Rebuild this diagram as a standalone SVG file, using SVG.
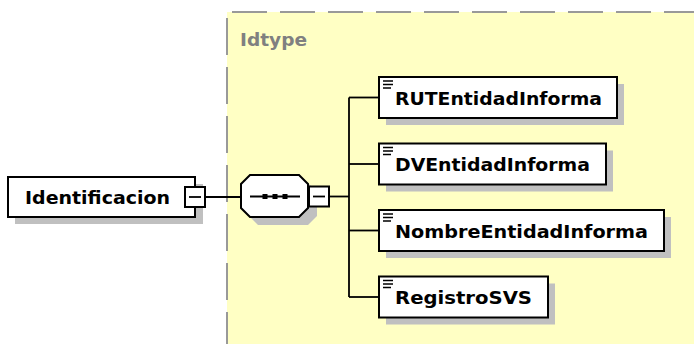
<svg xmlns="http://www.w3.org/2000/svg" width="694" height="344" viewBox="0 0 694 344">
<style>
.bx{fill:#ffffff;stroke:#000000;stroke-width:2}
.sh{fill:#c0c0c0;stroke:none}
.ln{fill:none;stroke:#000000;stroke-width:1.8}
.tx{font-family:"DejaVu Sans",Verdana,sans-serif;font-weight:bold;font-size:18.5px;fill:#000000}
.ic{stroke:#000000;stroke-width:1.6}
</style>
<rect x="0" y="0" width="694" height="344" fill="#ffffff"/>
<g id="Idtype">
<rect x="227" y="12" width="467" height="332" fill="#ffffc4"/>
<path d="M232,12 H694" fill="none" stroke="#999999" stroke-width="2" stroke-dasharray="35,13"/>
<path d="M227,18 V344" fill="none" stroke="#999999" stroke-width="2" stroke-dasharray="37,12"/>
<text x="240" y="46" class="tx" fill="#808080" style="fill:#808080" textLength="67" lengthAdjust="spacingAndGlyphs">Idtype</text>
</g>
<g id="connectors">
<path class="ln" d="M205,197 H241"/>
<path class="ln" d="M329,196.5 H349"/>
<path class="ln" d="M349,97.5 V297"/>
<path class="ln" d="M349,97.5 H379"/>
<path class="ln" d="M349,164 H379"/>
<path class="ln" d="M349,230.5 H379"/>
<path class="ln" d="M349,297 H379"/>
</g>
<g id="Identificacion">
<rect class="sh" x="15" y="184" width="188" height="40"/>
<rect class="bx" x="8" y="177" width="187" height="40"/>
<text x="25" y="204" class="tx" textLength="145" lengthAdjust="spacingAndGlyphs">Identificacion</text>
<rect class="bx" x="185" y="187" width="20" height="20"/>
<path class="ln" d="M189,197 H201"/>
</g>
<g id="sequence">
<path class="sh" d="M258,183 H308 L317,192 V216 L308,225 H258 L249,216 V192 Z"/>
<path fill="#ffffff" stroke="#000000" stroke-width="2" d="M250,175 H299 L308,184 V208 L299,217 H250 L241,208 V184 Z"/>
<path class="ln" d="M250,196.5 H300"/>
<rect x="262.5" y="194" width="5" height="5" fill="#000000"/>
<rect x="272.5" y="194" width="5" height="5" fill="#000000"/>
<rect x="282.5" y="194" width="5" height="5" fill="#000000"/>
<rect class="bx" x="309" y="186.5" width="20" height="20"/>
<path class="ln" d="M313,196.5 H325"/>
</g>
<g id="RUTEntidadInforma">
<rect class="sh" x="386" y="84" width="238" height="41"/>
<rect class="bx" x="379" y="77" width="238" height="41"/>
<path class="ic" d="M383,81 H393 M383,84.5 H393 M383,88 H391"/>
<text x="395" y="104.5" class="tx" textLength="207" lengthAdjust="spacingAndGlyphs">RUTEntidadInforma</text>
</g>
<g id="DVEntidadInforma">
<rect class="sh" x="386" y="150.5" width="227" height="41"/>
<rect class="bx" x="379" y="143.5" width="227" height="41"/>
<path class="ic" d="M383,147.5 H393 M383,151 H393 M383,154.5 H391"/>
<text x="395" y="171" class="tx" textLength="195" lengthAdjust="spacingAndGlyphs">DVEntidadInforma</text>
</g>
<g id="NombreEntidadInforma">
<rect class="sh" x="386" y="217" width="285" height="41"/>
<rect class="bx" x="379" y="210" width="285" height="41"/>
<path class="ic" d="M383,214 H393 M383,217.5 H393 M383,221 H391"/>
<text x="395" y="237.5" class="tx" textLength="253" lengthAdjust="spacingAndGlyphs">NombreEntidadInforma</text>
</g>
<g id="RegistroSVS">
<rect class="sh" x="386" y="283.5" width="169" height="41"/>
<rect class="bx" x="379" y="276.5" width="169" height="41"/>
<path class="ic" d="M383,280.5 H393 M383,284 H393 M383,287.5 H391"/>
<text x="395" y="304" class="tx" textLength="137" lengthAdjust="spacingAndGlyphs">RegistroSVS</text>
</g>
</svg>
